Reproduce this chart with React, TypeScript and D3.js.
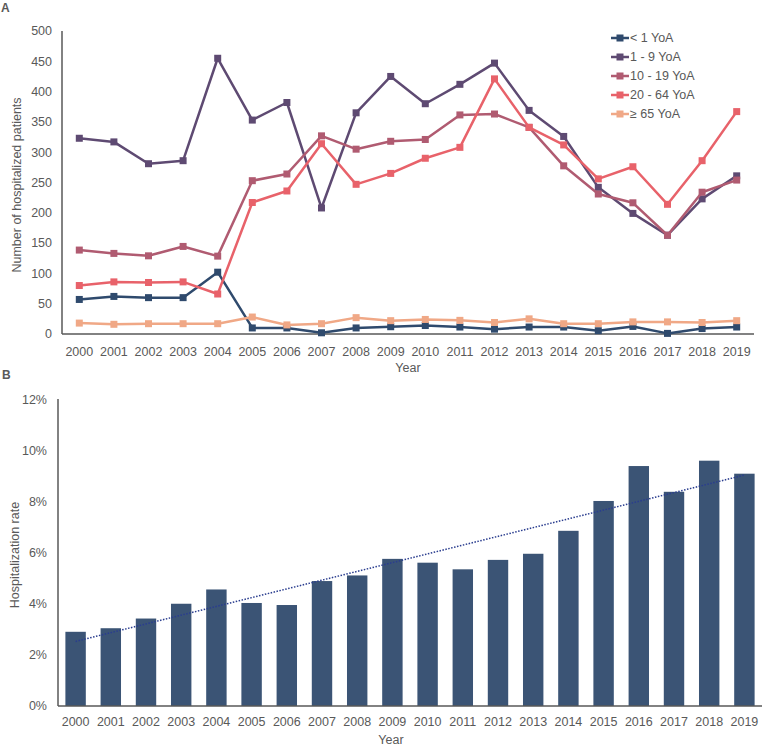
import React from "react";
import * as d3 from "d3";

const years = d3.range(2000, 2020).map(String);

const seriesNames = ["< 1 YoA", "1 - 9 YoA", "10 - 19 YoA", "20 - 64 YoA", "≥ 65 YoA"];
const seriesColors = ["#2f4a6d", "#5e4a72", "#b05b71", "#e8626a", "#f0a886"];

const under1 = [57, 62, 60, 60, 102, 10, 10, 2, 10, 12, 14, 11.5, 8, 11.5, 11.5, 5.5, 12.5, 1, 9, 11.5];
const age1to9 = [323, 317, 281, 286, 455, 353, 382, 208, 365, 425, 380, 412, 447, 369, 326, 242, 199, 163, 223, 261];
const age10to19 = [138.5, 133, 129, 144.5, 128.5, 253, 264, 327, 305, 318, 321, 361.5, 363, 341, 277.5, 231, 216.5, 163, 234, 254];
const age20to64 = [80, 86, 85, 86, 66, 217, 236, 314, 247, 265, 290, 308, 421, 341, 312, 256, 276, 214, 286, 367];
const age65plus = [18, 16, 17, 17, 17, 28, 15, 17, 27, 22, 24, 22.5, 19, 25, 17, 17, 20, 20, 19, 22];

const seriesValues = [under1, age1to9, age10to19, age20to64, age65plus];

const countTicks = [0, 50, 100, 150, 200, 250, 300, 350, 400, 450, 500];

const hospRate = [2.91, 3.05, 3.43, 4.01, 4.57, 4.04, 3.96, 4.9, 5.12, 5.77, 5.62, 5.36, 5.73, 5.97, 6.87, 8.04, 9.41, 8.4, 9.62, 9.11];
const rateTicks = [0, 2, 4, 6, 8, 10, 12];

const FONT = "'Liberation Sans', Arial, sans-serif";
const TEXT = "#595959";
const AXIS = "#595959";

export default function App() {
  const W = 763, H = 748;

  // Panel A
  const ax = { left: 62, right: 754, top: 31, bottom: 334 };
  const xA = d3.scalePoint<string>().domain(years).range([ax.left, ax.right]).padding(0.5);
  const yA = d3.scaleLinear().domain([0, 500]).range([ax.bottom, ax.top]);
  const line = (vals: number[]) =>
    d3.line<number>().x((_, i) => xA(years[i]) as number).y((v) => yA(v))(vals) as string;

  // Panel B
  const bx = { left: 58, right: 762, top: 400, bottom: 706 };
  const xB = d3.scaleBand<string>().domain(years).range([bx.left, bx.right]).paddingInner(0.42).paddingOuter(0.21);
  const yB = d3.scaleLinear().domain([0, 12]).range([bx.bottom, bx.top]);

  // linear trend (least squares)
  const idx = hospRate.map((_, i) => i);
  const mx = d3.mean(idx) as number;
  const my = d3.mean(hospRate) as number;
  const slope =
    (d3.sum(idx, (i) => (i - mx) * (hospRate[i] - my)) as number) /
    (d3.sum(idx, (i) => (i - mx) * (i - mx)) as number);
  const intercept = my - slope * mx;
  const trendPath = d3
    .line<number>()
    .x((i) => (xB(years[i]) as number) + xB.bandwidth() / 2)
    .y((i) => yB(intercept + slope * i))([0, idx.length - 1]) as string;

  const ms = 7;

  return (
    <svg
      width={W}
      height={H}
      style={{ position: "absolute", left: 0, top: 0, background: "#fff" }}
      fontFamily={FONT}
    >
      <rect width={W} height={H} fill="#fff" />
      {/* Panel labels */}
      <text x={1} y={12} fontSize={12} fontWeight="bold" fill={TEXT}>A</text>
      <text x={2} y={379} fontSize={12} fontWeight="bold" fill={TEXT}>B</text>

      {/* ===== Panel A ===== */}
      <g>
        {countTicks.map((t) => (
          <text key={t} x={52} y={yA(t)} dy="0.35em" textAnchor="end" fontSize={12.5} fill={TEXT}>
            {t}
          </text>
        ))}
        {years.map((y) => (
          <text key={y} x={xA(y)} y={352} dy="0.35em" textAnchor="middle" fontSize={12.5} fill={TEXT}>
            {y}
          </text>
        ))}
        <line x1={ax.left} x2={ax.left} y1={ax.top} y2={ax.bottom} stroke={AXIS} strokeWidth={1.5} />
        <line x1={ax.left} x2={ax.right} y1={ax.bottom} y2={ax.bottom} stroke={AXIS} strokeWidth={1.5} />
        <text x={408} y={368} dy="0.35em" textAnchor="middle" fontSize={12.5} fill={TEXT}>Year</text>
        <text
          transform={`translate(17,${185}) rotate(-90)`}
          dy="0.35em"
          textAnchor="middle"
          fontSize={12.5}
          fill={TEXT}
        >
          Number of hospitalized patients
        </text>

        {seriesValues.map((vals, s) => (
          <g key={s}>
            <path d={line(vals)} fill="none" stroke={seriesColors[s]} strokeWidth={2.5} strokeLinejoin="round" />
            {vals.map((v, i) => (
              <rect
                key={i}
                x={(xA(years[i]) as number) - ms / 2}
                y={yA(v) - ms / 2}
                width={ms}
                height={ms}
                fill={seriesColors[s]}
              />
            ))}
          </g>
        ))}

        {/* legend */}
        {seriesNames.map((n, s) => {
          const ly = 38 + s * 19;
          return (
            <g key={n}>
              <line x1={611} x2={629} y1={ly} y2={ly} stroke={seriesColors[s]} strokeWidth={2.5} />
              <rect x={620 - ms / 2} y={ly - ms / 2} width={ms} height={ms} fill={seriesColors[s]} />
              <text x={630} y={ly} dy="0.35em" fontSize={12.5} fill={TEXT}>
                {n}
              </text>
            </g>
          );
        })}
      </g>

      {/* ===== Panel B ===== */}
      <g>
        {rateTicks.map((t) => (
          <text key={t} x={47} y={yB(t)} dy="0.35em" textAnchor="end" fontSize={12.5} fill={TEXT}>
            {t + "%"}
          </text>
        ))}
        {hospRate.map((v, i) => (
          <rect
            key={i}
            x={xB(years[i])}
            y={yB(v)}
            width={xB.bandwidth()}
            height={yB(0) - yB(v)}
            fill="#3b5475"
          />
        ))}
        <path d={trendPath} fill="none" stroke="#2a3d8f" strokeWidth={1.5} strokeDasharray="1.5 1.5" />
        <line x1={bx.left} x2={bx.left} y1={bx.top - 1} y2={bx.bottom} stroke={AXIS} strokeWidth={1.5} />
        <line x1={bx.left} x2={bx.right} y1={bx.bottom} y2={bx.bottom} stroke={AXIS} strokeWidth={1.5} />
        {years.map((y) => (
          <text
            key={y}
            x={(xB(y) as number) + xB.bandwidth() / 2}
            y={722}
            dy="0.35em"
            textAnchor="middle"
            fontSize={12.5}
            fill={TEXT}
          >
            {y}
          </text>
        ))}
        <text x={391} y={740} dy="0.35em" textAnchor="middle" fontSize={12.5} fill={TEXT}>Year</text>
        <text
          transform={`translate(15,555) rotate(-90)`}
          dy="0.35em"
          textAnchor="middle"
          fontSize={12.5}
          fill={TEXT}
        >
          Hospitalization rate
        </text>
      </g>
    </svg>
  );
}
